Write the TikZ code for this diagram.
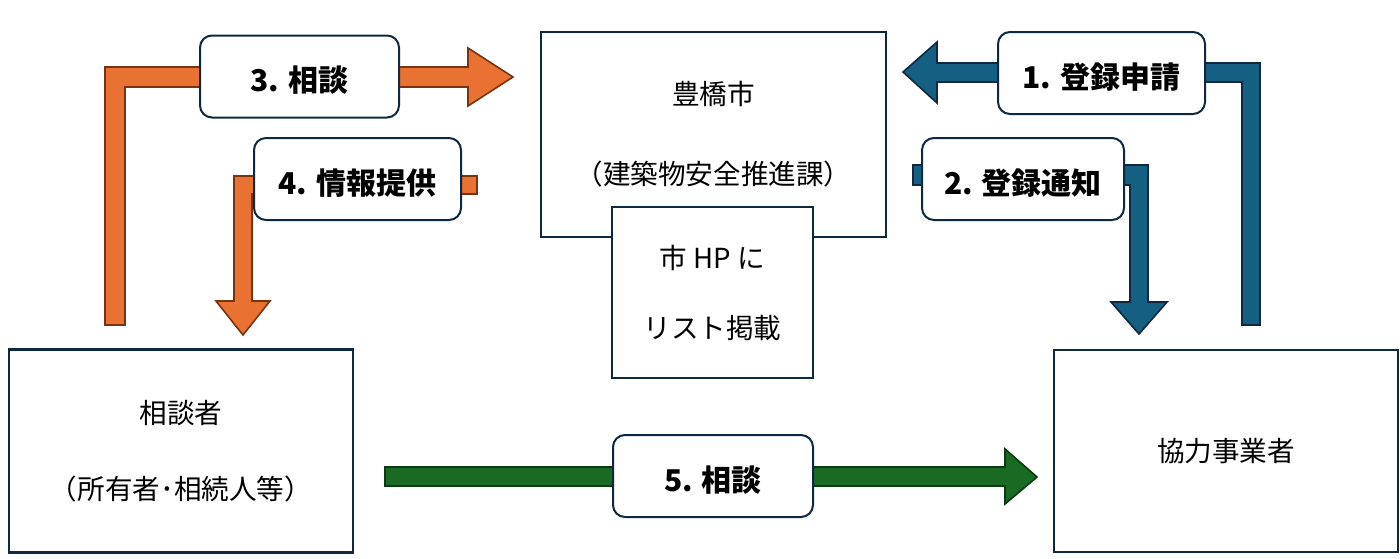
\documentclass[tikz,border=0pt]{standalone}
\usepackage{fontspec}
\setmainfont{Noto Sans CJK JP}
\usepackage{tikz}

\definecolor{navy}{HTML}{0E2841}
\definecolor{orangefill}{HTML}{E97132}
\definecolor{orangeline}{HTML}{7A3310}
\definecolor{bluefill}{HTML}{156082}
\definecolor{greenfill}{HTML}{196B24}
\definecolor{greenline}{HTML}{0B3A12}

\begin{document}
\begin{tikzpicture}[
            x=0.5pt, y=-0.5pt,
            box/.style={draw=navy, line width=1.2pt, fill=white, inner sep=0pt, align=center},
            tag/.style={draw=navy, line width=1pt, fill=white, rounded corners=6pt, inner sep=0pt,
                minimum height=41pt, text height=1.5em, text depth=0pt,
                font=\fontsize{15}{18}\selectfont\bfseries},
            orangearrow/.style={fill=orangefill, draw=orangeline, line width=0.8pt},
            bluearrow/.style={fill=bluefill, draw=navy, line width=0.8pt},
            greenarrow/.style={fill=greenfill, draw=greenline, line width=0.8pt}
        ]
            \useasboundingbox (0,0) rectangle (1400,558);

            % block arrows
            \draw[orangearrow] (105,325) -- (105,67) -- (468,67) -- (468,48) -- (513,77)
                -- (468,106) -- (468,87) -- (125,87) -- (125,325) -- cycle;
            \draw[orangearrow] (477,176) -- (477,194) -- (252,194) -- (252,301) -- (270,301)
                -- (243,335) -- (216,301) -- (234,301) -- (234,176) -- cycle;
            \draw[bluearrow] (1242,325) -- (1242,82) -- (937,82) -- (937,103) -- (903,72)
                -- (937,42) -- (937,63) -- (1260,63) -- (1260,325) -- cycle;
            \draw[bluearrow] (913,165) -- (1148,165) -- (1148,302) -- (1167,302) -- (1139,334)
                -- (1111,302) -- (1130,302) -- (1130,185) -- (913,185) -- cycle;
            \draw[greenarrow] (385,467) -- (1005,467) -- (1005,449) -- (1037,477)
                -- (1005,504) -- (1005,486) -- (385,486) -- cycle;

            % boxes
            \node[box, minimum width=172.5pt, minimum height=102.5pt,
                font=\fontsize{13.8}{40}\selectfont] (city) at (713.5,134.5)
                {豊橋市\\（建築物安全推進課）};
            \node[box, minimum width=100.5pt, minimum height=85.5pt,
                font=\fontsize{13.8}{35}\selectfont] (hp) at (712.5,292.5)
                {市 HP に\\リスト掲載};
            \node[box, minimum width=172pt, minimum height=101.5pt,
                font=\fontsize{13.8}{38}\selectfont] (client) at (181,451)
                {相談者\\（所有者･相続人等）};
            \node[box, minimum width=172pt, minimum height=101pt,
                font=\fontsize{13.8}{38}\selectfont] (firm) at (1226,451)
                {協力事業者};

            % step labels
            \node[tag, minimum width=99.5pt] (ask) at (299.5,76.5) {3. 相談};
            \node[tag, minimum width=103.5pt] (info) at (357.5,179) {4. 情報提供};
            \node[tag, minimum width=103.5pt] (apply) at (1101.5,73) {1. 登録申請};
            \node[tag, minimum width=101pt] (notice) at (1023,179) {2. 登録通知};
            \node[tag, minimum width=100pt] (talk) at (713,476) {5. 相談};
        \end{tikzpicture}
\end{document}
